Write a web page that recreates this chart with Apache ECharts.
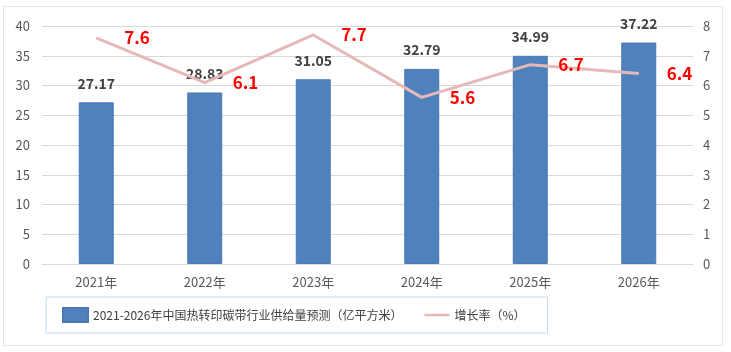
<!DOCTYPE html>
<html>
<head>
<meta charset="utf-8">
<script src="https://cdn.jsdelivr.net/npm/echarts@6/dist/echarts.min.js"></script>
<style>
  html, body { margin: 0; padding: 0; background: #fff; }
  #frame { position: absolute; left: 3px; top: 6px; width: 718px; height: 338px; border: 1px solid #e6e6da; }
  #chart { position: absolute; left: 0; top: 0; width: 731px; height: 352px; }
</style>
</head>
<body>
<div id="frame"></div>
<div id="chart"></div>
<script>
// 年份
const years = ['2021年', '2022年', '2023年', '2024年', '2025年', '2026年'];
// 供给量（亿平方米）
const supply = [27.17, 28.83, 31.05, 32.79, 34.99, 37.22];
// 增长率（%）
const growth = [7.6, 6.1, 7.7, 5.6, 6.7, 6.4];

const barName = '2021-2026年中国热转印碳带行业供给量预测（亿平方米）';
const lineName = '增长率（%）';
const font = '"Noto Sans CJK SC", sans-serif';

const chart = echarts.init(document.getElementById('chart'));
chart.setOption({
  animation: false,
  textStyle: { fontFamily: font },
  grid: { left: 42, right: 38, top: 26, bottom: 88 },
  legend: {
    left: 46, top: 297,
    padding: [10, 22, 10, 16],
    borderColor: '#c6d9f0', borderWidth: 1,
    itemGap: 22,
    textStyle: { color: '#404040', fontSize: 12, fontFamily: font },
    data: [
      { name: barName, icon: 'rect', itemWidth: 27, itemHeight: 8 },
      { name: lineName, icon: 'path://M0,0 L30,0 L30,3 L0,3 Z', itemWidth: 30, itemHeight: 3 }
    ]
  },
  xAxis: {
    type: 'category',
    data: years,
    axisLine: { lineStyle: { color: '#d9d9d9' } },
    axisTick: { show: false },
    axisLabel: { color: '#595959', fontSize: 13, margin: 12 }
  },
  yAxis: [
    {
      type: 'value', min: 0, max: 40, interval: 5,
      axisLine: { show: false }, axisTick: { show: false },
      axisLabel: { color: '#595959', fontSize: 13, margin: 12 },
      splitLine: { lineStyle: { color: '#d9d9d9', width: 1 } }
    },
    {
      type: 'value', min: 0, max: 8, interval: 1,
      axisLine: { show: false }, axisTick: { show: false },
      axisLabel: { color: '#595959', fontSize: 13, margin: 10 },
      splitLine: { show: false }
    }
  ],
  series: [
    {
      name: barName,
      type: 'bar',
      data: supply,
      barWidth: 35,
      itemStyle: { color: '#4f81bd', borderColor: '#4a7ab5', borderWidth: 1 },
      label: {
        show: true, position: 'top', distance: 12,
        color: '#404040', fontSize: 14, fontWeight: 'bold'
      }
    },
    {
      name: lineName,
      type: 'line',
      yAxisIndex: 1,
      data: growth,
      symbol: 'circle',
      symbolSize: 0,
      showSymbol: true,
      z: 3,
      lineStyle: { color: '#e6b9b8', width: 3 },
      itemStyle: { color: '#e6b9b8' },
      label: {
        show: true, position: 'right', distance: 28,
        color: '#ff0000', fontSize: 17, fontWeight: 'bold'
      }
    }
  ]
});
</script>
</body>
</html>
